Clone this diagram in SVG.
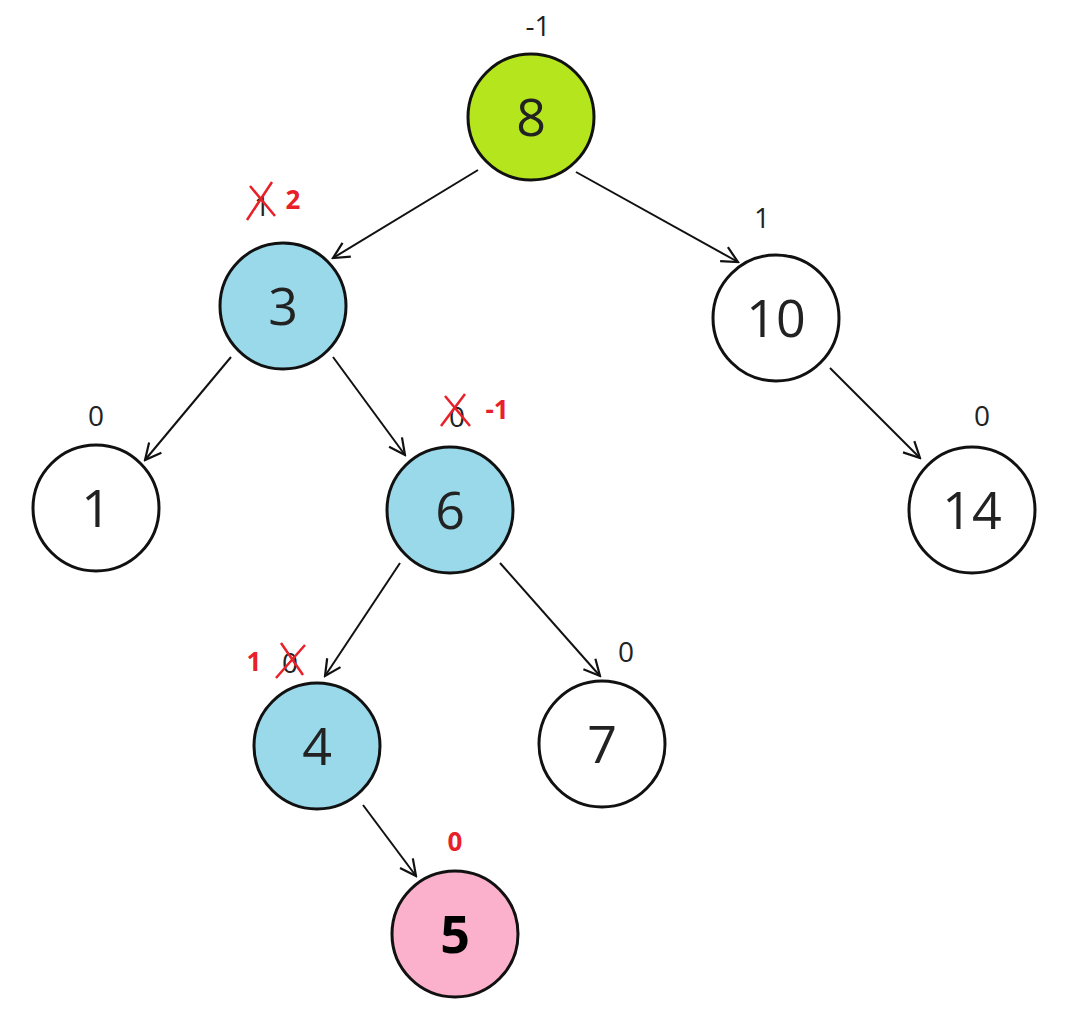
<svg xmlns="http://www.w3.org/2000/svg" width="1076" height="1019" viewBox="0 0 1076 1019">
<style>
.n{stroke:#111;stroke-width:3}
.t{font-family:"Open Sans","Liberation Sans",sans-serif;font-size:52px;fill:#222;text-anchor:middle}
.b{font-family:"Open Sans","Liberation Sans",sans-serif;font-size:28px;fill:#222;text-anchor:middle}
.r{font-family:"Open Sans","Liberation Sans",sans-serif;font-size:26px;font-weight:bold;fill:#e8202a;text-anchor:middle}
.x{stroke:#e8202a;stroke-width:2.5;fill:none}
.e{stroke:#111;stroke-width:2;fill:none;marker-end:url(#a)}
</style>
<defs><marker id="a" viewBox="0 0 20 20" refX="18" refY="10" markerWidth="20" markerHeight="20" markerUnits="userSpaceOnUse" orient="auto"><polyline points="2,2 18,10 2,18" fill="none" stroke="#111" stroke-width="2.2"/></marker></defs>
<rect width="1076" height="1019" fill="#fff"/>
<g id="edges">
<line class="e" x1="478" y1="170" x2="333" y2="258"/>
<line class="e" x1="576" y1="172" x2="738" y2="262"/>
<line class="e" x1="231" y1="357" x2="145" y2="460"/>
<line class="e" x1="333" y1="357" x2="405" y2="455"/>
<line class="e" x1="830" y1="368" x2="920" y2="458"/>
<line class="e" x1="400" y1="563" x2="325" y2="676"/>
<line class="e" x1="500" y1="563" x2="600" y2="676"/>
<line class="e" x1="363" y1="805" x2="416" y2="876"/>
</g>
<g id="n8"><circle class="n" cx="531" cy="117" r="63" fill="#b5e61d"/><text class="t" x="531" y="136">8</text><text class="b" x="538" y="36">-1</text></g>
<g id="n3"><circle class="n" cx="283" cy="306" r="63" fill="#99d9ea"/><text class="t" x="283" y="325">3</text><text class="b" x="262" y="216">1</text><path class="x" d="M247 220 L272 182 M250 186 L275 216"/><text class="r" x="293" y="209">2</text></g>
<g id="n10"><circle class="n" cx="776" cy="318" r="63" fill="#fff"/><text class="t" x="776" y="337">10</text><text class="b" x="762" y="228">1</text></g>
<g id="n1"><circle class="n" cx="96" cy="508" r="63" fill="#fff"/><text class="t" x="96" y="527">1</text><text class="b" x="96" y="426">0</text></g>
<g id="n6"><circle class="n" cx="450" cy="510" r="63" fill="#99d9ea"/><text class="t" x="450" y="529">6</text><text class="b" x="457" y="427">0</text><path class="x" d="M441 426 L465 394 M445 396 L470 426"/><text class="r" x="497" y="419">-1</text></g>
<g id="n14"><circle class="n" cx="972" cy="510" r="63" fill="#fff"/><text class="t" x="972" y="529">14</text><text class="b" x="982" y="426">0</text></g>
<g id="n4"><circle class="n" cx="317" cy="746" r="63" fill="#99d9ea"/><text class="t" x="317" y="765">4</text><text class="b" x="290" y="673">0</text><path class="x" d="M276 678 L305 645 M281 643 L303 675"/><text class="r" x="254" y="671">1</text></g>
<g id="n7"><circle class="n" cx="602" cy="744" r="63" fill="#fff"/><text class="t" x="602" y="763">7</text><text class="b" x="626" y="662">0</text></g>
<g id="n5"><circle class="n" cx="455" cy="934" r="63" fill="#fbb0cb"/><text class="t" x="455" y="953" style="font-weight:bold;fill:#000">5</text><text class="r" x="455" y="851">0</text></g>
</svg>
